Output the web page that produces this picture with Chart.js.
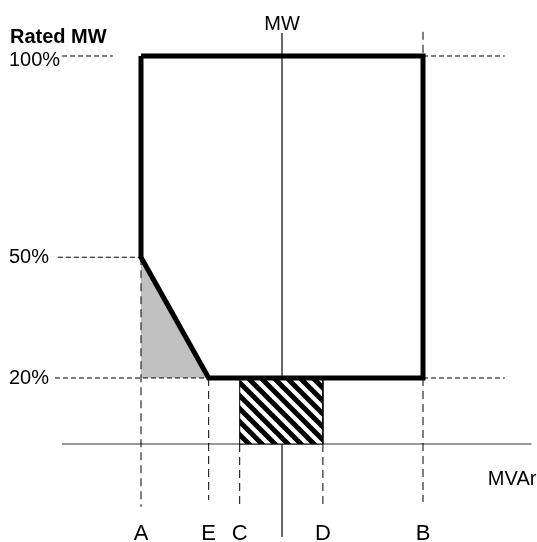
<!DOCTYPE html>
<html>
<head>
<meta charset="utf-8">
<script src="https://cdn.jsdelivr.net/npm/chart.js@4/dist/chart.umd.min.js"></script>
<style>
  html, body { margin: 0; padding: 0; background: #fff; }
  #wrap { width: 537px; height: 542px; position: relative; }
</style>
</head>
<body>
<div id="wrap"><canvas id="chart"></canvas></div>
<script>
// reactive limit points on the MVAr axis (schematic units, MW axis = 0)
const limitNames = ['A', 'E', 'C', 'D', 'B'];
const limitMvar = [-1.0, -0.52, -0.30, 0.29, 1.0];

// MW levels (% of rated)
const mwLevels = [100, 50, 20];
const mwLevelLabels = ['100%', '50%', '20%'];

// level where the MVAr axis is drawn in this sketch
const mvarAxisLevel = 3.6;

const mv = n => limitMvar[limitNames.indexOf(n)];
const [A, E, C, D, B] = limitNames.map(mv);
const [mw100, mw50, mw20] = mwLevels;

const FONT = '"Liberation Sans", Arial, sans-serif';

// diagonal hatch for the C-D block
function hatch() {
  const s = 13;
  const c = document.createElement('canvas');
  c.width = s; c.height = s;
  const g = c.getContext('2d');
  g.fillStyle = '#fff';
  g.fillRect(0, 0, s, s);
  g.strokeStyle = '#000';
  g.lineWidth = 5;
  for (let k = -1; k <= 1; k++) {
    g.beginPath();
    g.moveTo(k * s - 2, -2);
    g.lineTo(k * s + s + 2, s + 2);
    g.stroke();
  }
  return g.createPattern(c, 'repeat');
}

function seg(points, opts) {
  return Object.assign({
    data: points.map(p => ({ x: p[0], y: p[1] })),
    showLine: true,
    pointRadius: 0,
    borderColor: '#000',
    borderWidth: 1,
    fill: false,
    order: 5
  }, opts);
}

const hDash = [5, 3];
const vDash = [8, 5];

const datasets = [
  // capability boundary
  seg([[A, mw100], [B, mw100], [B, mw20], [E, mw20], [A, mw50], [A, mw100]],
      { borderWidth: 5, borderJoinStyle: 'miter', order: 0 }),
  // grey triangle
  seg([[A, mw50], [E, mw20], [A, mw20], [A, mw50]],
      { borderWidth: 0, fill: 'shape', backgroundColor: '#c0c0c0', order: 9 }),
  // hatched block C-D (covers the MW axis)
  seg([[C, mw20], [D, mw20], [D, mvarAxisLevel], [C, mvarAxisLevel], [C, mw20]],
      { fill: 'shape', backgroundColor: hatch(), order: 3 }),
  // axes
  seg([[0, 105.7], [0, -19.5]], { borderColor: '#555', order: 7 }),
  seg([[-1.56, mvarAxisLevel], [1.77, mvarAxisLevel]], { borderColor: '#333', order: 7 }),
  // horizontal guides
  seg([[-1.56, mw100], [-1.20, mw100]], { borderDash: hDash }),
  seg([[B, mw100], [1.58, mw100]], { borderDash: hDash }),
  seg([[-1.59, mw50], [A, mw50]], { borderDash: hDash }),
  seg([[-1.61, mw20], [E, mw20]], { borderDash: hDash }),
  seg([[B, mw20], [1.58, mw20]], { borderDash: hDash }),
  // vertical guides
  seg([[A, mw50], [A, -12.0]], { borderDash: vDash }),
  seg([[E, mw20], [E, -10.3]], { borderDash: vDash }),
  seg([[C, mvarAxisLevel], [C, -11.6]], { borderDash: vDash }),
  seg([[D, mvarAxisLevel], [D, -12.3]], { borderDash: vDash }),
  seg([[B, 106], [B, mw100]], { borderDash: vDash }),
  seg([[B, mw20], [B, -10.8]], { borderDash: vDash })
];

const labelsPlugin = {
  id: 'labels',
  afterDraw(chart) {
    const ctx = chart.ctx;
    const xs = chart.scales.x, ys = chart.scales.y;
    ctx.save();
    ctx.fillStyle = '#000';
    ctx.textAlign = 'left';
    ctx.textBaseline = 'alphabetic';
    ctx.font = 'bold 20px ' + FONT;
    ctx.fillText('Rated MW', 10, 43);
    ctx.font = '20px ' + FONT;
    ctx.textBaseline = 'middle';
    mwLevels.forEach((v, i) => {
      ctx.fillText(mwLevelLabels[i], 9, ys.getPixelForValue(v) + (i === 0 ? 4 : 0));
    });
    ctx.textBaseline = 'alphabetic';
    ctx.textAlign = 'center';
    ctx.fillText('MW', xs.getPixelForValue(0), 30);
    ctx.textAlign = 'left';
    ctx.fillText('MVAr', xs.getPixelForValue(1.46), 485);
    ctx.font = '22px ' + FONT;
    ctx.textAlign = 'center';
    limitNames.forEach((n, i) => {
      ctx.fillText(n, xs.getPixelForValue(limitMvar[i]), 540);
    });
    ctx.restore();
  }
};

new Chart(document.getElementById('chart'), {
  type: 'scatter',
  data: { datasets },
  options: {
    responsive: true,
    maintainAspectRatio: false,
    animation: false,
    layout: { padding: 0 },
    plugins: { legend: { display: false }, tooltip: { enabled: false } },
    scales: {
      x: { type: 'linear', display: false, min: -2.0, max: 1.8085 },
      y: { type: 'linear', display: false, min: -20.745, max: 113.913 }
    }
  },
  plugins: [labelsPlugin]
});
</script>
</body>
</html>
